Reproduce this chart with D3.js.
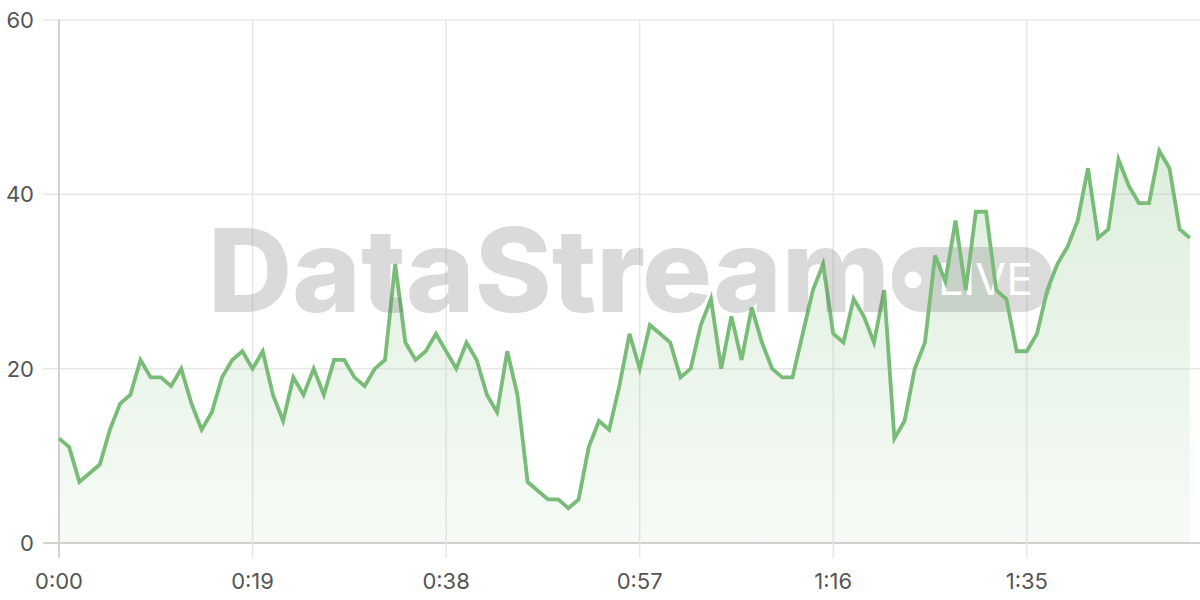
<!DOCTYPE html>
<html>
<head>
<meta charset="utf-8">
<script src="https://cdn.jsdelivr.net/npm/d3@7"></script>
<style>
  html, body { margin: 0; padding: 0; background: #fff; }
  svg { display: block; font-family: Inter, "Open Sans", sans-serif; }
</style>
</head>
<body>
<svg id="chart" width="1200" height="600"></svg>
<script>
// ------------------- Data -------------------
// one reading per second, starting at 0:00
const values = [
  12, 11, 7, 8, 9, 13, 16, 17, 21, 19, 19, 18, 20, 16, 13, 15, 19, 21, 22, 20,
  22, 17, 14, 19, 17, 20, 17, 21, 21, 19, 18, 20, 21, 32, 23, 21, 22, 24, 22, 20,
  23, 21, 17, 15, 22, 17, 7, 6, 5, 5, 4, 5, 11, 14, 13, 18, 24, 20, 25, 24,
  23, 19, 20, 25, 28, 20, 26, 21, 27, 23, 20, 19, 19, 24, 29, 32, 24, 23, 28, 26,
  23, 29, 12, 14, 20, 23, 33, 30, 37, 29, 38, 38, 29, 28, 22, 22, 24, 29, 32, 34,
  37, 43, 35, 36, 44, 41, 39, 39, 45, 43, 36, 35
];
const xTicks = [0, 19, 38, 57, 76, 95];
const yTicks = [0, 20, 40, 60];
const watermark = "DataStream";
const badge = "LIVE";

// ------------------- Setup -------------------
const svg = d3.select("#chart");
const width = 1200, height = 600;
const margin = { top: 20, right: 0, bottom: 57, left: 59 };

const data = values.map((v, i) => ({ t: i, v }));

const x = d3.scaleLinear().domain([0, 112]).range([margin.left, width - margin.right]);
const y = d3.scaleLinear().domain([0, 60]).range([height - margin.bottom, margin.top]);

const fmt = s => `${Math.floor(s / 60)}:${String(s % 60).padStart(2, "0")}`;

// gradient under the line
const defs = svg.append("defs");
const grad = defs.append("linearGradient")
  .attr("id", "fillGrad")
  .attr("x1", 0).attr("y1", 0).attr("x2", 0).attr("y2", 1);
grad.append("stop").attr("offset", "0%").attr("stop-color", "#7dbf7d").attr("stop-opacity", 0.26);
grad.append("stop").attr("offset", "100%").attr("stop-color", "#7dbf7d").attr("stop-opacity", 0.07);

// ------------------- Grid -------------------
const grid = svg.append("g");

grid.selectAll("line.h")
  .data(yTicks)
  .join("line")
    .attr("class", "h")
    .attr("x1", margin.left - 16)
    .attr("x2", width)
    .attr("y1", d => y(d))
    .attr("y2", d => y(d))
    .attr("stroke", d => d === 0 ? "#d2d2d2" : "#e8e8e8")
    .attr("stroke-width", d => d === 0 ? 2 : 1.5);

grid.selectAll("line.v")
  .data(xTicks)
  .join("line")
    .attr("class", "v")
    .attr("x1", d => x(d))
    .attr("x2", d => x(d))
    .attr("y1", margin.top)
    .attr("y2", y(0) + 15)
    .attr("stroke", d => d === 0 ? "#d2d2d2" : "#e8e8e8")
    .attr("stroke-width", d => d === 0 ? 2 : 1.5);

// ------------------- Labels -------------------
svg.append("g")
  .selectAll("text")
  .data(yTicks)
  .join("text")
    .attr("x", 34)
    .attr("y", d => y(d))
    .attr("dy", "0.36em")
    .attr("text-anchor", "end")
    .attr("font-size", 22)
    .attr("fill", "#555")
    .text(d => d);

svg.append("g")
  .selectAll("text")
  .data(xTicks)
  .join("text")
    .attr("x", d => x(d))
    .attr("y", 581)
    .attr("dy", "0.36em")
    .attr("text-anchor", "middle")
    .attr("font-size", 22)
    .attr("fill", "#555")
    .text(d => fmt(d));

// ------------------- Area -------------------
const area = d3.area()
  .x(d => x(d.t))
  .y0(y(0))
  .y1(d => y(d.v));

const line = d3.line()
  .x(d => x(d.t))
  .y(d => y(d.v));

svg.append("path")
  .datum(data)
  .attr("d", area)
  .attr("fill", "url(#fillGrad)");

// ------------------- LIVE badge (under the line) -------------------
const pill = svg.append("g");
pill.append("rect")
  .attr("x", 892)
  .attr("y", 247)
  .attr("width", 160)
  .attr("height", 65)
  .attr("rx", 30)
  .attr("fill", "#6e6e6e")
  .attr("opacity", 0.25);
pill.append("circle")
  .attr("cx", 913)
  .attr("cy", 280)
  .attr("r", 8.5)
  .attr("fill", "#fff");
pill.append("text")
  .attr("x", 938)
  .attr("y", 295)
  .attr("font-weight", 400)
  .attr("font-size", 44)
  .attr("fill", "#fff")
  .attr("textLength", 95)
  .attr("lengthAdjust", "spacingAndGlyphs")
  .text(badge);

// ------------------- Line -------------------
svg.append("path")
  .datum(data)
  .attr("d", line)
  .attr("fill", "none")
  .attr("stroke", "#78bc78")
  .attr("stroke-width", 3.8)
  .attr("stroke-linejoin", "miter");

// ------------------- Watermark -------------------
svg.append("text")
  .attr("x", 208)
  .attr("y", 312)
  .attr("font-weight", 800)
  .attr("font-size", 116)
  .attr("fill", "#6e6e6e")
  .attr("opacity", 0.25)
  .attr("textLength", 682)
  .attr("lengthAdjust", "spacingAndGlyphs")
  .text(watermark);
</script>
</body>
</html>
